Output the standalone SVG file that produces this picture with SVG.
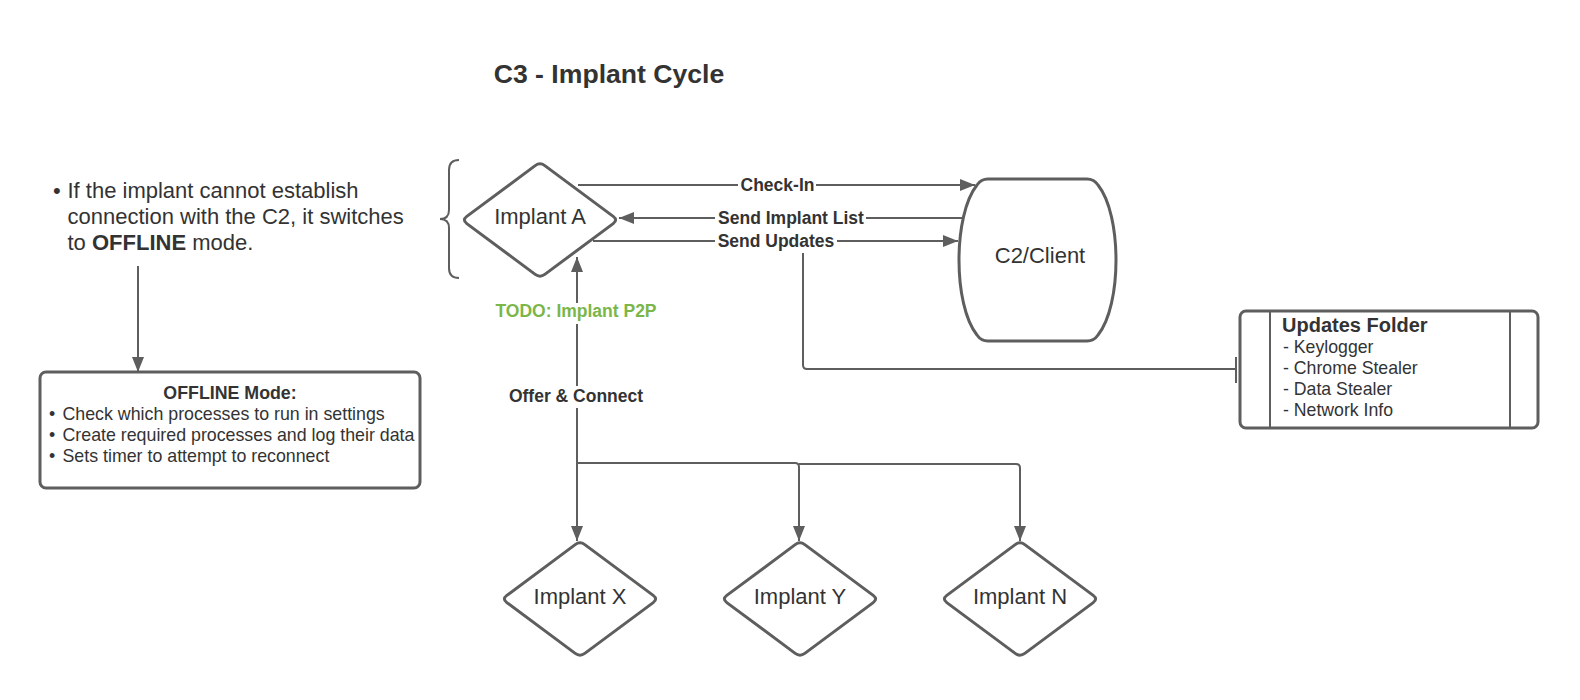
<svg xmlns="http://www.w3.org/2000/svg" width="1580" height="700" viewBox="0 0 1580 700">
<style>
.shape{fill:#fff;stroke:#5e5e5e;stroke-width:3;stroke-linejoin:round}
.conn{fill:none;stroke:#5e5e5e;stroke-width:2}
.t{font-family:"Liberation Sans",Arial,sans-serif;fill:#333}
.b{font-weight:bold}
.lbl{font-family:"Liberation Sans",Arial,sans-serif;font-weight:bold;font-size:17.5px;fill:#333;text-anchor:middle}
.bg{fill:#fff}
</style>
<defs>
<marker id="arr" markerWidth="16" markerHeight="14" refX="15" refY="7" orient="auto" markerUnits="userSpaceOnUse"><path d="M0,1 L15,7 L0,13 Z" fill="#5e5e5e"/></marker>
<path id="dia" d="M-73.2,-3.6 L-4.8,-54.4 Q0,-58 4.8,-54.4 L73.2,-3.6 Q78,0 73.2,3.6 L4.8,54.4 Q0,58 -4.8,54.4 L-73.2,3.6 Q-78,0 -73.2,-3.6 Z"/>
</defs>
<rect width="1580" height="700" fill="#fff"/>
<text id="title" class="t b" x="609" y="83" font-size="26.6" text-anchor="middle">C3 - Implant Cycle</text>

<g id="connectors">
<path class="conn" d="M578,185 H975" marker-end="url(#arr)"/>
<path class="conn" d="M962,218 H619" marker-end="url(#arr)"/>
<path class="conn" d="M593,241 H958" marker-end="url(#arr)"/>
<path class="conn" d="M803,253 V365 Q803,369 807,369 H1236"/>
<path class="conn" d="M1236,357 V383" stroke-width="2.5"/>
<path class="conn" d="M138,266 V372" marker-end="url(#arr)"/>
<path class="conn" d="M577,463 V257" marker-end="url(#arr)"/>
<path class="conn" d="M577,463 V541" marker-end="url(#arr)"/>
<path class="conn" d="M577,463 H795 Q799,463 799,467 V541" marker-end="url(#arr)"/>
<path class="conn" d="M799,464 H1016 Q1020,464 1020,468 V541" marker-end="url(#arr)"/>
<rect class="bg" x="738" y="176" width="78" height="20"/>
<text class="lbl" x="777.5" y="191">Check-In</text>
<rect class="bg" x="715" y="208" width="151" height="20"/>
<text class="lbl" x="791" y="224">Send Implant List</text>
<rect class="bg" x="715" y="231" width="122" height="20"/>
<text class="lbl" x="776" y="247">Send Updates</text>
<rect class="bg" x="492" y="303" width="168" height="21"/>
<text class="lbl" x="576" y="317" style="fill:#7ab648">TODO: Implant P2P</text>
<rect class="bg" x="505" y="386" width="142" height="22"/>
<text class="lbl" x="576" y="402">Offer &amp; Connect</text>
</g>

<g id="brace">
<path class="conn" stroke-width="3" d="M459,160 Q449,160 449,170 V210 Q449,219 440,219 Q449,219 449,228 V268 Q449,278 459,278"/>
</g>

<g id="note">
<text class="t" font-size="22"><tspan x="53" y="198">•</tspan><tspan x="67.5" y="198">If the implant cannot establish</tspan><tspan x="67.5" y="224">connection with the C2, it switches</tspan><tspan x="67.5" y="250">to <tspan class="b">OFFLINE</tspan> mode.</tspan></text>
</g>

<g id="offline">
<rect class="shape" x="40" y="372" width="380" height="116" rx="6"/>
<text class="t b" x="230" y="399" font-size="17.8" text-anchor="middle">OFFLINE Mode:</text>
<text class="t" font-size="17.8"><tspan x="49" y="420">•</tspan><tspan x="62.5" y="420">Check which processes to run in settings</tspan><tspan x="49" y="441">•</tspan><tspan x="62.5" y="441">Create required processes and log their data</tspan><tspan x="49" y="462">•</tspan><tspan x="62.5" y="462">Sets timer to attempt to reconnect</tspan></text>
</g>

<g id="implantA">
<use href="#dia" class="shape" transform="translate(540,220)"/>
<text class="t" x="540" y="224" font-size="22" text-anchor="middle">Implant A</text>
</g>

<g id="c2client">
<path class="shape" d="M988,179 H1087 Q1094,179 1098,185 C1122,215 1122,305 1098,335 Q1094,341 1087,341 H988 Q981,341 977,335 C953,305 953,215 977,185 Q981,179 988,179 Z"/>
<text class="t" x="1040" y="263" font-size="22" text-anchor="middle">C2/Client</text>
</g>

<g id="updates">
<rect class="shape" x="1240" y="311" width="298" height="117" rx="6"/>
<path class="conn" stroke-width="3" d="M1270,311 V428 M1510,311 V428"/>
<text class="t b" x="1282" y="332" font-size="20">Updates Folder</text>
<text class="t" font-size="17.7"><tspan x="1283" y="353">- Keylogger</tspan><tspan x="1283" y="374">- Chrome Stealer</tspan><tspan x="1283" y="395">- Data Stealer</tspan><tspan x="1283" y="416">- Network Info</tspan></text>
</g>

<g id="implantX">
<use href="#dia" class="shape" transform="translate(580,599)"/>
<text class="t" x="580" y="604" font-size="22" text-anchor="middle">Implant X</text>
</g>
<g id="implantY">
<use href="#dia" class="shape" transform="translate(800,599)"/>
<text class="t" x="800" y="604" font-size="22" text-anchor="middle">Implant Y</text>
</g>
<g id="implantN">
<use href="#dia" class="shape" transform="translate(1020,599)"/>
<text class="t" x="1020" y="604" font-size="22" text-anchor="middle">Implant N</text>
</g>
</svg>
